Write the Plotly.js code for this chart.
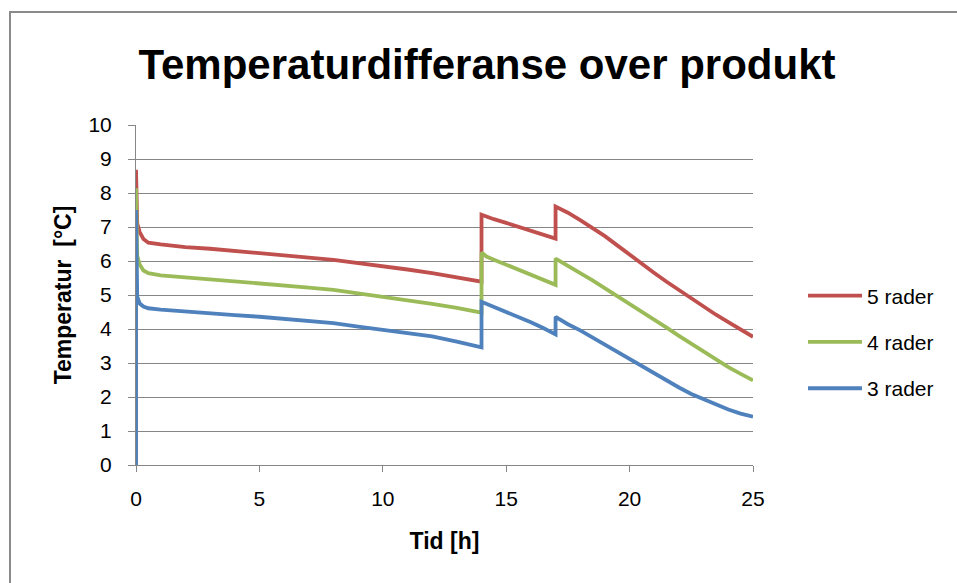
<!DOCTYPE html>
<html>
<head>
<meta charset="utf-8">
<script src="https://cdn.plot.ly/plotly-3.0.1.min.js"></script>
<style>
  html, body { margin: 0; padding: 0; background: #fff; overflow: hidden; }
  #chart { width: 957px; height: 583px; }
  #frame { position: absolute; left: 9px; top: 11px; width: 1100px; height: 800px;
           border: 2px solid #8a8a8a; pointer-events: none; }
</style>
</head>
<body>
<div id="chart"></div>
<div id="frame"></div>
<script>
const tid = [0, 0, 0.05, 0.15, 0.3, 0.5, 1, 2, 3, 4, 5, 6, 7, 8, 9, 10, 11, 12, 13, 14, 14, 14.2, 14.5, 15, 15.5, 16, 16.5, 17, 17, 17.5, 18, 18.5, 19, 19.5, 20, 20.5, 21, 21.5, 22, 22.5, 23, 23.5, 24, 24.5, 25];

const rader5 = [0, 8.68, 7.10, 6.85, 6.65, 6.54, 6.49, 6.41, 6.36, 6.30, 6.24, 6.17, 6.10, 6.03, 5.94, 5.85, 5.75, 5.64, 5.52, 5.39, 7.36, 7.30, 7.23, 7.12, 7.00, 6.89, 6.77, 6.66, 7.60, 7.42, 7.20, 6.98, 6.73, 6.46, 6.18, 5.92, 5.65, 5.39, 5.14, 4.90, 4.66, 4.42, 4.20, 3.98, 3.77];

const rader4 = [0, 8.14, 6.15, 5.90, 5.72, 5.64, 5.58, 5.52, 5.47, 5.42, 5.36, 5.30, 5.22, 5.15, 5.05, 4.95, 4.85, 4.74, 4.62, 4.48, 6.25, 6.13, 6.04, 5.89, 5.74, 5.60, 5.45, 5.30, 6.07, 5.87, 5.64, 5.43, 5.20, 4.99, 4.75, 4.52, 4.28, 4.04, 3.80, 3.57, 3.33, 3.10, 2.88, 2.68, 2.49];

const rader3 = [0, 7.50, 4.95, 4.75, 4.66, 4.61, 4.57, 4.51, 4.46, 4.41, 4.36, 4.30, 4.24, 4.17, 4.07, 3.97, 3.88, 3.78, 3.63, 3.46, 4.80, 4.74, 4.66, 4.51, 4.36, 4.20, 4.03, 3.84, 4.36, 4.14, 3.96, 3.75, 3.54, 3.32, 3.11, 2.89, 2.67, 2.47, 2.28, 2.09, 1.93, 1.77, 1.63, 1.51, 1.42];

const seriesNames = ['5 rader', '4 rader', '3 rader'];
const seriesColors = ['#C0504D', '#9BBB59', '#4F81BD'];
const seriesValues = [rader5, rader4, rader3];

const xTicks = [0, 5, 10, 15, 20, 25];
const yTicks = [0, 1, 2, 3, 4, 5, 6, 7, 8, 9, 10];

const traces = seriesValues.map((vals, i) => ({
  x: tid,
  y: vals,
  type: 'scatter',
  mode: 'lines',
  name: seriesNames[i],
  legendgroup: 'g' + i,
  line: { color: seriesColors[i], width: 3.8 },
  hoverinfo: 'x+y+name'
}));

const baseFont = 'Liberation Sans, Arial, sans-serif';

const layout = {
  width: 957,
  height: 583,
  paper_bgcolor: '#ffffff',
  plot_bgcolor: '#ffffff',
  margin: { l: 136, r: 204, t: 125, b: 118, pad: 0 },
  font: { family: baseFont, size: 21, color: '#000000' },
  title: {
    text: '<b>Temperaturdifferanse over produkt</b>',
    font: { family: baseFont, size: 42, color: '#000000' },
    xref: 'container', yref: 'container',
    x: 487 / 957, xanchor: 'center',
    y: 1 - 64 / 583, yanchor: 'middle'
  },
  xaxis: {
    range: [0, 25],
    tickvals: xTicks,
    ticktext: xTicks.map(String),
    showgrid: false,
    zeroline: false,
    showline: true,
    linecolor: '#868686',
    linewidth: 1,
    ticks: 'outside',
    ticklen: 6,
    tickcolor: '#868686',
    ticklabelstandoff: 9,
    tickfont: { family: baseFont, size: 21, color: '#000' },
    title: { text: '<b>Tid [h]</b>', font: { family: baseFont, size: 23, color: '#000' }, standoff: 23 }
  },
  yaxis: {
    range: [0, 10],
    tickvals: yTicks,
    ticktext: yTicks.map(String),
    showgrid: true,
    gridcolor: '#868686',
    gridwidth: 1,
    zeroline: false,
    showline: true,
    linecolor: '#868686',
    linewidth: 1,
    ticks: 'outside',
    ticklen: 7,
    tickcolor: '#868686',
    ticklabelstandoff: 12,
    tickfont: { family: baseFont, size: 21, color: '#000' },
    title: { text: '<b>Temperatur  [°C]</b>', font: { family: baseFont, size: 23, color: '#000' }, standoff: 10 }
  },
  showlegend: true,
  legend: {
    xref: 'container', yref: 'container',
    x: 803 / 957, xanchor: 'left',
    y: 1 - 342 / 583, yanchor: 'middle',
    traceorder: 'grouped',
    tracegroupgap: 16,
    itemwidth: 54,
    font: { family: baseFont, size: 21, color: '#000' },
    bgcolor: 'rgba(0,0,0,0)'
  }
};

Plotly.newPlot('chart', traces, layout, { displayModeBar: false, staticPlot: true });
</script>
</body>
</html>
